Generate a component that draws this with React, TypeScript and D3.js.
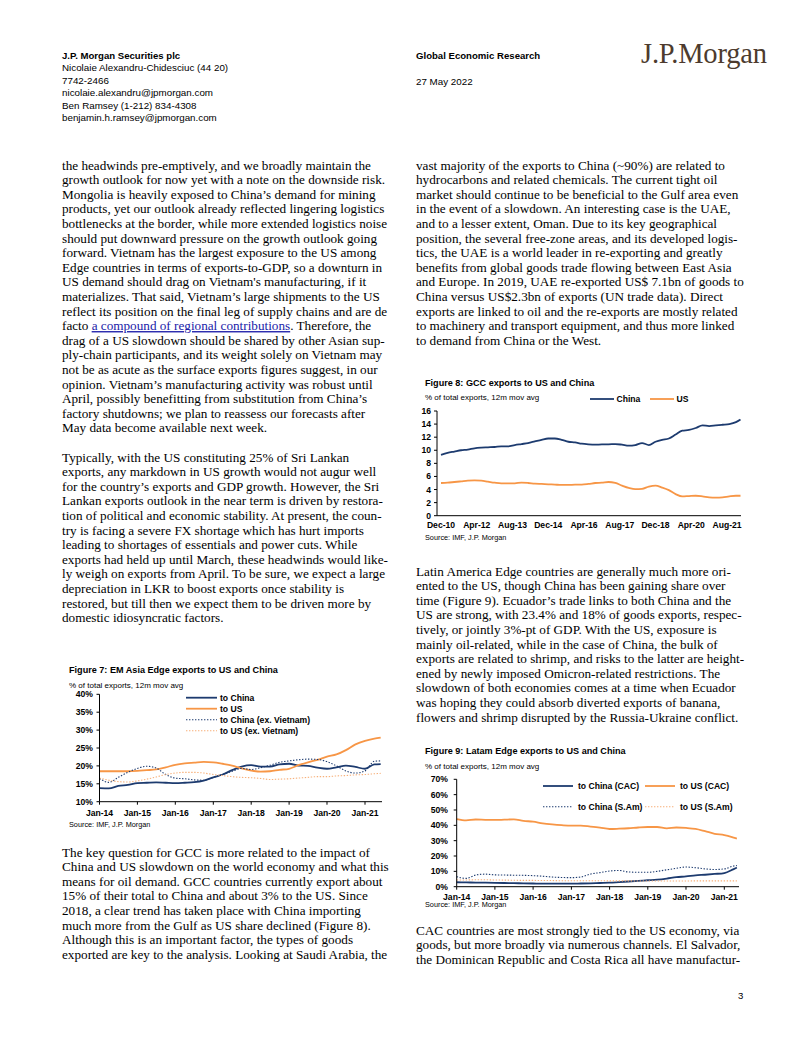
import React from 'react';
import * as d3 from 'd3';

const NAVY = '#1d3b6f';
const ORANGE = '#f79646';
const LIGHT_ORANGE = '#f7b07a';
const SERIF = '"Liberation Serif", "Times New Roman", serif';
const SANS = '"Liberation Sans", Arial, sans-serif';

// ---------- Header ----------
const headerLeft = [
  'Nicolaie Alexandru-Chidesciuc (44 20)',
  '7742-2466',
  'nicolaie.alexandru@jpmorgan.com',
  'Ben Ramsey (1-212) 834-4308',
  'benjamin.h.ramsey@jpmorgan.com',
];

// ---------- Body text ----------
const leftColumn = [
  'the headwinds pre-emptively, and we broadly maintain the',
  'growth outlook for now yet with a note on the downside risk.',
  'Mongolia is heavily exposed to China’s demand for mining',
  'products, yet our outlook already reflected lingering logistics',
  'bottlenecks at the border, while more extended logistics noise',
  'should put downward pressure on the growth outlook going',
  'forward. Vietnam has the largest exposure to the US among',
  'Edge countries in terms of exports-to-GDP, so a downturn in',
  "US demand should drag on Vietnam's manufacturing, if it",
  'materializes. That said, Vietnam’s large shipments to the US',
  'reflect its position on the final leg of supply chains and are de',
  'LINK',
  'drag of a US slowdown should be shared by other Asian sup-',
  'ply-chain participants, and its weight solely on Vietnam may',
  'not be as acute as the surface exports figures suggest, in our',
  'opinion. Vietnam’s manufacturing activity was robust until',
  'April, possibly benefitting from substitution from China’s',
  'factory shutdowns; we plan to reassess our forecasts after',
  'May data become available next week.',
  '',
  'Typically, with the US constituting 25% of Sri Lankan',
  'exports, any markdown in US growth would not augur well',
  'for the country’s exports and GDP growth. However, the Sri',
  'Lankan exports outlook in the near term is driven by restora-',
  'tion of political and economic stability. At present, the coun-',
  'try is facing a severe FX shortage which has hurt imports',
  'leading to shortages of essentials and power cuts. While',
  'exports had held up until March, these headwinds would like-',
  'ly weigh on exports from April. To be sure, we expect a large',
  'depreciation in LKR to boost exports once stability is',
  'restored, but till then we expect them to be driven more by',
  'domestic idiosyncratic factors.',
];

const rightTop = [
  'vast majority of the exports to China (~90%) are related to',
  'hydrocarbons and related chemicals. The current tight oil',
  'market should continue to be beneficial to the Gulf area even',
  'in the event of a slowdown. An interesting case is the UAE,',
  'and to a lesser extent, Oman. Due to its key geographical',
  'position, the several free-zone areas, and its developed logis-',
  'tics, the UAE is a world leader in re-exporting and greatly',
  'benefits from global goods trade flowing between East Asia',
  'and Europe. In 2019, UAE re-exported US$ 7.1bn of goods to',
  'China versus US$2.3bn of exports (UN trade data). Direct',
  'exports are linked to oil and the re-exports are mostly related',
  'to machinery and transport equipment, and thus more linked',
  'to demand from China or the West.',
];

const rightMid = [
  'Latin America Edge countries are generally much more ori-',
  'ented to the US, though China has been gaining share over',
  'time (Figure 9). Ecuador’s trade links to both China and the',
  'US are strong, with 23.4% and 18% of goods exports, respec-',
  'tively, or jointly 3%-pt of GDP. With the US, exposure is',
  'mainly oil-related, while in the case of China, the bulk of',
  'exports are related to shrimp, and risks to the latter are height-',
  'ened by newly imposed Omicron-related restrictions. The',
  'slowdown of both economies comes at a time when Ecuador',
  'was hoping they could absorb diverted exports of banana,',
  'flowers and shrimp disrupted by the Russia-Ukraine conflict.',
];

const leftBottom = [
  'The key question for GCC is more related to the impact of',
  'China and US slowdown on the world economy and what this',
  'means for oil demand.  GCC countries currently export about',
  '15% of their total to China and about 3% to the US. Since',
  '2018, a clear trend has taken place with China importing',
  'much more from the Gulf as US share declined (Figure 8).',
  'Although this is an important factor, the types of goods',
  'exported are key to the analysis. Looking at Saudi Arabia, the',
];

const rightBottom = [
  'CAC countries are most strongly tied to the US economy, via',
  'goods, but more broadly via numerous channels. El Salvador,',
  'the Dominican Republic and Costa Rica all have manufactur-',
];

// ---------- Figure 7 data (quarterly from Jan-14, % of total exports) ----------
const fig7Start = new Date(2014, 0, 1);
const fig7MonthOffsets = [0, 3, 6, 9, 12, 15, 18, 21, 24, 27, 30, 33, 36, 39, 42, 45, 48, 51, 54, 57, 60, 63, 66, 69, 72, 75, 78, 81, 84, 87, 89];
const fig7China = [13.8, 13.7, 14.4, 14.7, 15.2, 15.3, 15.4, 15.3, 15.2, 15.3, 15.45, 15.9, 16.8, 17.6, 18.8, 19.8, 20.2, 19.8, 19.8, 20.4, 20.6, 20.1, 20.0, 19.5, 19.2, 19.6, 20.1, 19.7, 19.2, 20.4, 20.5];
const fig7US = [18.5, 18.5, 18.5, 18.5, 18.6, 18.8, 19.0, 19.6, 20.3, 20.7, 20.9, 21.1, 21.0, 20.6, 20.1, 19.3, 18.7, 18.4, 18.5, 18.9, 19.2, 20.2, 21.0, 21.7, 22.6, 23.2, 24.4, 26.0, 27.0, 27.6, 27.9];
const fig7ChinaExVN = [16.5, 15.4, 16.8, 18.2, 19.3, 19.9, 19.4, 17.6, 16.6, 16.4, 16.1, 16.0, 16.8, 17.6, 18.5, 19.3, 19.0, 19.5, 20.2, 21.0, 21.4, 21.7, 21.9, 21.8, 21.2, 20.0, 18.6, 18.0, 18.6, 21.3, 21.4];
const fig7USExVN = [16.6, 16.0, 15.6, 15.5, 15.8, 16.3, 16.9, 17.6, 18.0, 18.2, 18.2, 18.0, 17.6, 17.3, 17.0, 16.8, 16.7, 16.5, 16.2, 16.3, 16.4, 16.6, 16.8, 17.0, 17.0, 17.2, 17.3, 17.5, 17.6, 17.8, 17.9];
const fig7YTicks = [10, 15, 20, 25, 30, 35, 40];
const fig7XTicks = ['Jan-14', 'Jan-15', 'Jan-16', 'Jan-17', 'Jan-18', 'Jan-19', 'Jan-20', 'Jan-21'];
const fig7Legend = ['to China', 'to US', 'to China (ex. Vietnam)', 'to US (ex. Vietnam)'];

// ---------- Figure 8 data (quarterly from Dec-10) ----------
const fig8Start = new Date(2010, 11, 1);
const fig8MonthOffsets = [0, 3, 6, 9, 12, 15, 18, 21, 24, 27, 30, 33, 36, 39, 42, 45, 48, 51, 54, 57, 60, 63, 66, 69, 72, 75, 78, 81, 84, 87, 90, 93, 96, 99, 102, 105, 108, 111, 114, 117, 120, 123, 126, 129, 132, 134];
const fig8China = [9.3, 9.6, 9.8, 10.0, 10.1, 10.3, 10.4, 10.45, 10.5, 10.6, 10.6, 10.8, 10.95, 11.1, 11.35, 11.6, 11.8, 11.8, 11.6, 11.3, 11.2, 11.0, 10.9, 10.85, 10.9, 10.9, 10.95, 10.85, 10.7, 10.8, 11.1, 10.8, 11.3, 11.6, 11.8, 12.4, 13.0, 13.1, 13.4, 13.8, 13.7, 13.8, 13.9, 14.0, 14.3, 14.7];
const fig8US = [5.0, 5.05, 5.15, 5.25, 5.35, 5.4, 5.35, 5.2, 5.05, 4.95, 4.95, 4.95, 5.05, 5.0, 4.9, 4.85, 4.8, 4.75, 4.7, 4.7, 4.75, 4.75, 4.85, 5.0, 5.05, 5.15, 5.0, 4.6, 4.25, 4.05, 4.1, 4.45, 4.6, 4.3, 3.9, 3.3, 2.95, 3.0, 3.05, 2.95, 2.8, 2.75, 2.8, 2.95, 3.05, 3.05];
const fig8YTicks = [0, 2, 4, 6, 8, 10, 12, 14, 16];
const fig8XTicks = ['Dec-10', 'Apr-12', 'Aug-13', 'Dec-14', 'Apr-16', 'Aug-17', 'Dec-18', 'Apr-20', 'Aug-21'];
const fig8Legend = ['China', 'US'];

// ---------- Figure 9 data (quarterly from Jan-14) ----------
const fig9Start = new Date(2014, 0, 1);
const fig9MonthOffsets = [0, 3, 6, 9, 12, 15, 18, 21, 24, 27, 30, 33, 36, 39, 42, 45, 48, 51, 54, 57, 60, 63, 66, 69, 72, 75, 78, 81, 84, 87, 88];
const fig9ChinaCAC = [2.9, 2.8, 2.7, 2.6, 2.5, 2.4, 2.3, 2.2, 2.1, 2.0, 2.0, 2.0, 2.0, 2.1, 2.2, 2.4, 2.6, 3.0, 3.4, 3.8, 4.2, 4.6, 5.3, 6.2, 6.7, 7.4, 7.8, 8.3, 8.9, 11.5, 12.4];
const fig9USCAC = [44.1, 43.2, 43.8, 43.6, 43.5, 43.7, 43.9, 42.9, 42.4, 41.3, 40.6, 40.1, 39.8, 39.8, 39.2, 38.5, 37.6, 37.8, 38.1, 38.6, 38.9, 38.9, 38.0, 38.6, 38.3, 37.7, 36.2, 34.5, 33.6, 32.0, 31.4];
const fig9ChinaSAm = [6.5, 5.4, 7.6, 8.2, 7.7, 7.6, 7.5, 7.4, 7.2, 6.8, 6.3, 6.0, 5.9, 6.3, 8.2, 9.2, 10.2, 10.6, 9.6, 9.4, 9.4, 10.0, 11.0, 12.0, 12.8, 12.4, 11.6, 11.2, 11.6, 13.5, 13.8];
const fig9USSAm = [4.4, 4.4, 4.5, 4.5, 4.4, 4.3, 4.2, 4.1, 4.1, 4.0, 4.0, 3.9, 3.9, 3.9, 3.9, 3.9, 3.8, 3.8, 3.8, 3.7, 3.7, 3.7, 3.7, 3.7, 3.7, 3.8, 3.8, 3.8, 3.8, 3.8, 3.8];
const fig9YTicks = [0, 10, 20, 30, 40, 50, 60, 70];
const fig9XTicks = ['Jan-14', 'Jan-15', 'Jan-16', 'Jan-17', 'Jan-18', 'Jan-19', 'Jan-20', 'Jan-21'];
const fig9Legend = ['to China (CAC)', 'to US (CAC)', 'to China (S.Am)', 'to US (S.Am)'];

const parseTick = d3.timeParse('%b-%y');

type Series = { values: number[]; color: string; width: number; dash?: string };

function Lines({ start, offsets, series, x, y }: any) {
  const dates = offsets.map((m: number) => d3.timeMonth.offset(start, m));
  return (
    <g>
      {series.map((s: Series, i: number) => {
        const line = d3
          .line<number>()
          .x((_, j) => x(dates[j]))
          .y((v) => y(v))
          .curve(d3.curveMonotoneX);
        return (
          <path key={i} d={line(s.values) || ''} fill="none" stroke={s.color} strokeWidth={s.width} strokeDasharray={s.dash} />
        );
      })}
    </g>
  );
}

function TextBlock({ lines, x, y0, lh = 14.6 }: { lines: string[]; x: number; y0: number; lh?: number }) {
  return (
    <g fontFamily={SERIF} fontSize={13.2} fill="#000" style={{ whiteSpace: 'pre' }}>
      {lines.map((l, i) =>
        l === 'LINK' ? (
          <text key={i} x={x} y={y0 + i * lh}>
            facto{' '}
            <tspan fill="#1a1aa8" textDecoration="underline">a compound of regional contributions</tspan>
            . Therefore, the
          </text>
        ) : (
          <text key={i} x={x} y={y0 + i * lh}>
            {l}
          </text>
        )
      )}
    </g>
  );
}

const TITLE_SIZE = 9.1;

function Figure7() {
  const x = d3.scaleTime().domain([fig7Start, new Date(2021, 0, 1)]).range([99.5, 365]);
  const y = d3.scaleLinear().domain([10, 40]).range([801.7, 694.3]);
  const xEnd = 382;
  const series: Series[] = [
    { values: fig7China, color: NAVY, width: 1.8 },
    { values: fig7US, color: ORANGE, width: 1.8 },
    { values: fig7ChinaExVN, color: NAVY, width: 1.1, dash: '1.4,1.6' },
    { values: fig7USExVN, color: LIGHT_ORANGE, width: 1.1, dash: '1.4,1.6' },
  ];
  return (
    <g fontFamily={SANS}>
      <text x={69} y={673} fontSize={TITLE_SIZE} fontWeight="bold">Figure 7: EM Asia Edge exports to US and China</text>
      <text x={69} y={687.5} fontSize={8}>% of total exports, 12m mov avg</text>
      <Lines start={fig7Start} offsets={fig7MonthOffsets} series={series} x={x} y={y} />
      <line x1={99.5} x2={99.5} y1={694.3} y2={801.7} stroke="#000" strokeWidth={1} />
      <line x1={99.5} x2={xEnd} y1={801.7} y2={801.7} stroke="#000" strokeWidth={1} />
      {fig7YTicks.map((t) => (
        <g key={t}>
          <line x1={96.5} x2={99.5} y1={y(t)} y2={y(t)} stroke="#000" />
          <text x={93} y={y(t)} dy="0.35em" textAnchor="end" fontSize={8.6} fontWeight="bold">{t}%</text>
        </g>
      ))}
      {fig7XTicks.map((t) => {
        const d = parseTick(t)!;
        return (
          <g key={t}>
            <line x1={x(d)} x2={x(d)} y1={801.7} y2={804.7} stroke="#000" />
            <text x={x(d)} y={815.5} textAnchor="middle" fontSize={8.6} fontWeight="bold">{t}</text>
          </g>
        );
      })}
      {fig7Legend.map((t, i) => (
        <g key={t}>
          <line x1={186} x2={217} y1={697.7 + i * 11} y2={697.7 + i * 11} stroke={series[i].color} strokeWidth={series[i].width} strokeDasharray={series[i].dash} />
          <text x={220} y={697.7 + i * 11} dy="0.35em" fontSize={8.6} fontWeight="bold">{t}</text>
        </g>
      ))}
      <text x={69} y={827} fontSize={7.3}>Source: IMF, J.P. Morgan</text>
    </g>
  );
}

function Figure8() {
  const x = d3.scaleTime().domain([fig8Start, new Date(2021, 7, 1)]).range([441, 727]);
  const y = d3.scaleLinear().domain([0, 16]).range([515.7, 411]);
  const series: Series[] = [
    { values: fig8China, color: NAVY, width: 1.8 },
    { values: fig8US, color: ORANGE, width: 1.8 },
  ];
  return (
    <g fontFamily={SANS}>
      <text x={425} y={386} fontSize={TITLE_SIZE} fontWeight="bold">Figure 8: GCC exports to US and China</text>
      <text x={425} y={400} fontSize={8}>% of total exports, 12m mov avg</text>
      <Lines start={fig8Start} offsets={fig8MonthOffsets} series={series} x={x} y={y} />
      <line x1={437} x2={437} y1={411} y2={515.7} stroke="#000" />
      <line x1={437} x2={741} y1={515.7} y2={515.7} stroke="#000" />
      {fig8YTicks.map((t) => (
        <g key={t}>
          <line x1={434} x2={437} y1={y(t)} y2={y(t)} stroke="#000" />
          <text x={431} y={y(t)} dy="0.35em" textAnchor="end" fontSize={8.6} fontWeight="bold">{t}</text>
        </g>
      ))}
      {fig8XTicks.map((t) => {
        const d = parseTick(t)!;
        return (
          <text key={t} x={x(d)} y={527.5} textAnchor="middle" fontSize={8.6} fontWeight="bold">{t}</text>
        );
      })}
      {fig8Legend.map((t, i) => (
        <g key={t}>
          <line x1={590 + i * 60} x2={614 + i * 60} y1={399} y2={399} stroke={series[i].color} strokeWidth={1.8} />
          <text x={616.5 + i * 60} y={399} dy="0.35em" fontSize={8.6} fontWeight="bold">{t}</text>
        </g>
      ))}
      <text x={425} y={540} fontSize={7.3}>Source: IMF, J.P. Morgan</text>
    </g>
  );
}

function Figure9() {
  const x = d3.scaleTime().domain([fig9Start, new Date(2021, 0, 1)]).range([456.7, 724.3]);
  const y = d3.scaleLinear().domain([0, 70]).range([886.7, 779.3]);
  const series: Series[] = [
    { values: fig9ChinaCAC, color: NAVY, width: 1.8 },
    { values: fig9USCAC, color: ORANGE, width: 1.8 },
    { values: fig9ChinaSAm, color: NAVY, width: 1.1, dash: '1.4,1.6' },
    { values: fig9USSAm, color: LIGHT_ORANGE, width: 1.1, dash: '1.4,1.6' },
  ];
  const legPos = [
    { x: 543, y: 786 },
    { x: 645, y: 786 },
    { x: 543, y: 806.7 },
    { x: 645, y: 806.7 },
  ];
  return (
    <g fontFamily={SANS}>
      <text x={425} y={754} fontSize={TITLE_SIZE} fontWeight="bold">Figure 9: Latam Edge exports to US and China</text>
      <text x={425} y={769} fontSize={8}>% of total exports, 12m mov avg</text>
      <Lines start={fig9Start} offsets={fig9MonthOffsets} series={series} x={x} y={y} />
      <line x1={456.7} x2={456.7} y1={779.3} y2={886.7} stroke="#000" />
      <line x1={456.7} x2={739} y1={886.7} y2={886.7} stroke="#000" />
      {fig9YTicks.map((t) => (
        <g key={t}>
          <line x1={453.7} x2={456.7} y1={y(t)} y2={y(t)} stroke="#000" />
          <text x={448} y={y(t)} dy="0.35em" textAnchor="end" fontSize={8.6} fontWeight="bold">{t}%</text>
        </g>
      ))}
      {fig9XTicks.map((t) => {
        const d = parseTick(t)!;
        return (
          <g key={t}>
            <line x1={x(d)} x2={x(d)} y1={886.7} y2={889.7} stroke="#000" />
            <text x={x(d)} y={899.5} textAnchor="middle" fontSize={8.6} fontWeight="bold">{t}</text>
          </g>
        );
      })}
      {fig9Legend.map((t, i) => (
        <g key={t}>
          <line x1={legPos[i].x} x2={legPos[i].x + 30} y1={legPos[i].y} y2={legPos[i].y} stroke={series[i].color} strokeWidth={series[i].width} strokeDasharray={series[i].dash} />
          <text x={legPos[i].x + 35} y={legPos[i].y} dy="0.35em" fontSize={8.6} fontWeight="bold">{t}</text>
        </g>
      ))}
      <text x={425} y={907} fontSize={7.3}>Source: IMF, J.P. Morgan</text>
    </g>
  );
}

export default function App() {
  return (
    <svg width={802} height={1037} viewBox="0 0 802 1037" style={{ position: 'absolute', left: 0, top: 0, background: '#fff' }}>
      <rect width={802} height={1037} fill="#fff" />
      <g fontFamily={SANS} fill="#000">
        <text x={62} y={58.5} fontSize={9.6} fontWeight="bold">J.P. Morgan Securities plc</text>
        {headerLeft.map((t, i) => (
          <text key={t} x={62} y={71 + i * 12.6} fontSize={9.8}>{t}</text>
        ))}
        <text x={416} y={58.5} fontSize={9.6} fontWeight="bold">Global Economic Research</text>
        <text x={416} y={84.5} fontSize={9.8}>27 May 2022</text>
        <text x={738} y={999} fontSize={9.6}>3</text>
      </g>
      <text x={641} y={63} fontFamily={SERIF} fontSize={28.5} fill="#4d3b2e" letterSpacing={-0.2}>J.P.Morgan</text>
      <TextBlock lines={leftColumn} x={62} y0={169.5} />
      <TextBlock lines={rightTop} x={416} y0={169.5} />
      <TextBlock lines={rightMid} x={416} y0={575.5} />
      <TextBlock lines={leftBottom} x={62} y0={856.5} />
      <TextBlock lines={rightBottom} x={416} y0={934.5} />
      <Figure7 />
      <Figure8 />
      <Figure9 />
    </svg>
  );
}
